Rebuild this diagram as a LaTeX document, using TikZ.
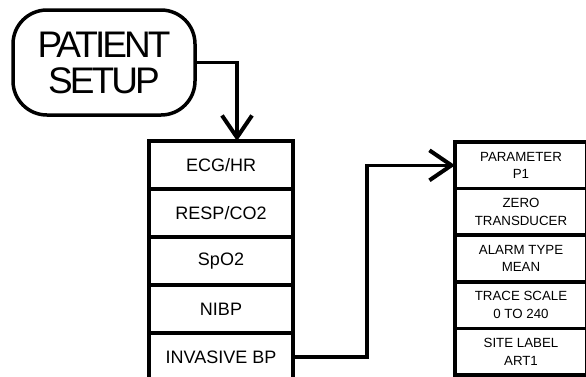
\documentclass[tikz,border=0pt]{standalone}
\usepackage{fontspec}
\setmainfont{Liberation Sans}
\newfontfamily\pillfont[LetterSpace=-8]{Liberation Sans}
\usetikzlibrary{arrows.meta}

\begin{document}
\begin{tikzpicture}[x=1pt,y=1pt]
\tikzset{
  pillbox/.style={draw,line width=3.5pt,rounded corners=34pt,minimum width=182pt,minimum height=105pt,inner sep=0pt,align=center,font=\pillfont\fontsize{37}{36}\selectfont},
  menurow/.style={draw,line width=3.5pt,outer sep=0pt,inner sep=0pt,minimum width=144pt,minimum height=48pt,font=\fontsize{18}{20}\selectfont},
  subrow/.style={draw,line width=3.5pt,outer sep=0pt,inner sep=0pt,minimum width=132pt,minimum height=46.6pt,align=center,font=\fontsize{13.3}{17.5}\selectfont},
  flowline/.style={line width=3.5pt,-{Straight Barb[length=22pt,width=30pt,line width=4pt]}}
}
\clip (0,0) rectangle (586,-376);
\node[pillbox] (n_setup) at (104,-62.5) {PATIENT\\SETUP};
\node[menurow] (n_ecg) at (221,-165) {ECG/HR};
\node[menurow] (n_resp) at (221,-213) {RESP/CO2};
\node[menurow] (n_spo2) at (221,-261) {SpO2};
\node[menurow] (n_nibp) at (221,-309) {NIBP};
\node[menurow] (n_ibp) at (221,-357) {INVASIVE BP};
\node[subrow] (n_param) at (521,-165.3) {PARAMETER\\P1};
\node[subrow] (n_zero) at (521,-211.9) {ZERO\\TRANSDUCER};
\node[subrow] (n_alarm) at (521,-258.5) {ALARM TYPE\\MEAN};
\node[subrow] (n_trace) at (521,-305.1) {TRACE SCALE\\0 TO 240};
\node[subrow] (n_site) at (521,-351.7) {SITE LABEL\\ART1};
\draw[flowline] (n_setup.east) -| ([xshift=16pt]n_ecg.north);
\draw[flowline] (n_ibp.east) -- ++(74,0) |- (n_param.west);
\end{tikzpicture}
\end{document}
